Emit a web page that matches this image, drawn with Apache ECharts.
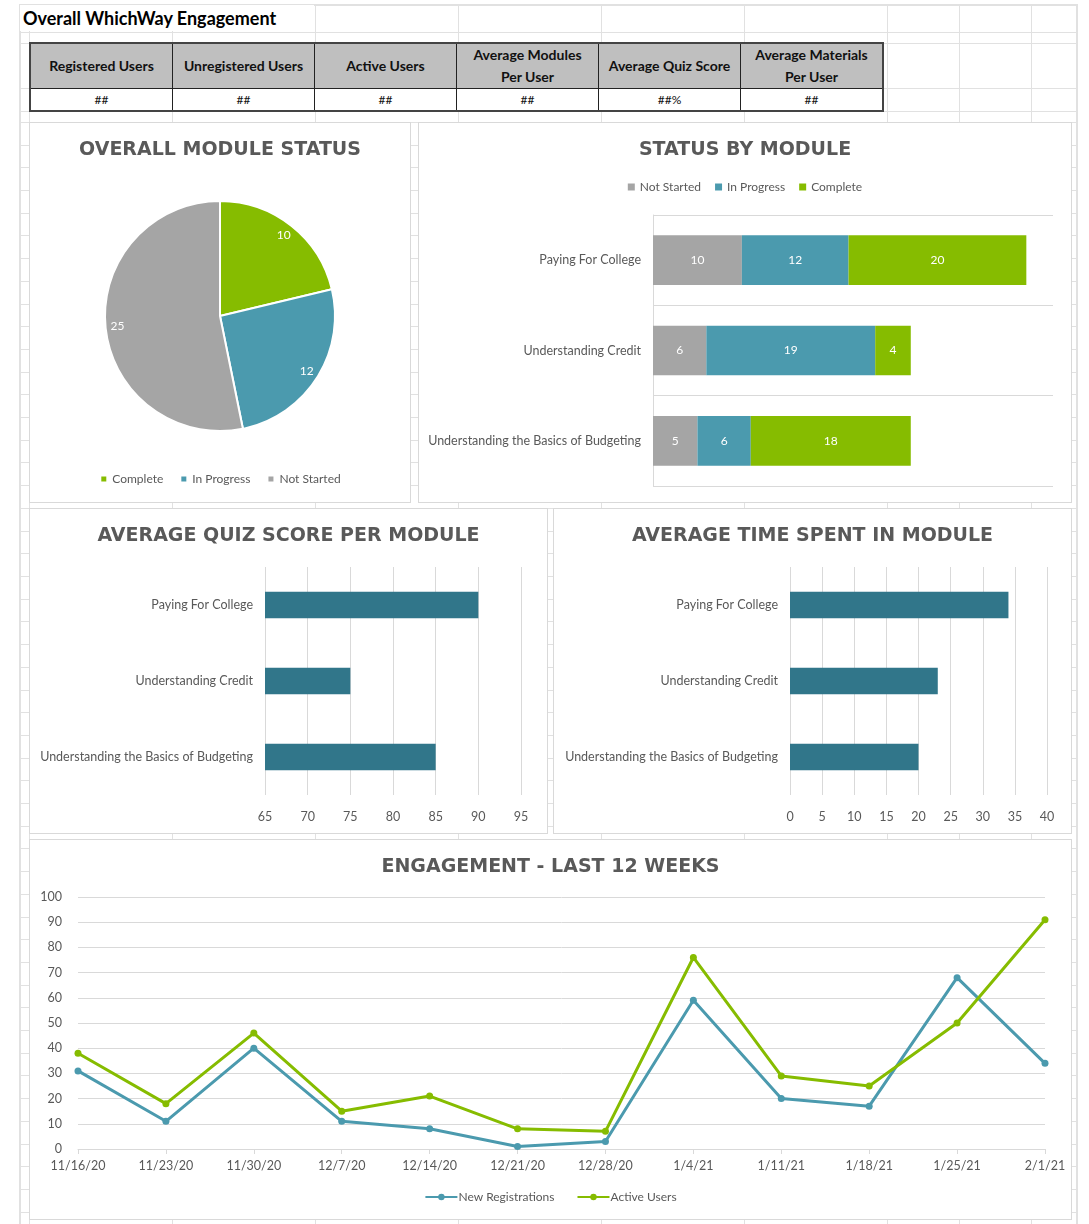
<!DOCTYPE html>
<html>
<head>
<meta charset="utf-8">
<script src="https://cdn.jsdelivr.net/npm/echarts@6/dist/echarts.min.js"></script>
<style>
  body { margin: 0; background: #fff; width: 1089px; height: 1224px; position: relative; overflow: hidden; font-family: Lato, sans-serif; }
  .gl { position: absolute; background: #e1e1e1; }
  .box { position: absolute; background: #fff; border: 1px solid #d9d9d9; box-sizing: border-box; }
  #sheetTitle { position: absolute; left: 20px; top: 5px; width: 294px; height: 26px; background: #fff;
    font-weight: bold; font-size: 18px; line-height: 27px; padding-left: 3px; color: #000; box-sizing: border-box; }
  #kpi { position: absolute; left: 29px; top: 42px; border-collapse: collapse; border: 2px solid #444; }
  #kpi td { width: 141px; padding: 0; text-align: center; border: 1px solid #222; color: #111; }
  #kpi tr.head td { background: #bfbfbf; height: 44px; font-weight: bold; font-size: 14px; line-height: 22px; }
  #kpi tr.vals td { background: #fff; height: 21px; font-size: 12px; }
</style>
</head>
<body>
<div id="grid"></div>
<div id="sheetTitle">Overall WhichWay Engagement</div>
<table id="kpi">
  <tr class="head"></tr>
  <tr class="vals"></tr>
</table>
<div id="pie" class="box" style="left:29px;top:122px;width:382px;height:381px"></div>
<div id="status" class="box" style="left:418px;top:122px;width:654px;height:381px"></div>
<div id="quiz" class="box" style="left:29px;top:508px;width:519px;height:326px"></div>
<div id="time" class="box" style="left:553px;top:508px;width:519px;height:326px"></div>
<div id="engage" class="box" style="left:29px;top:839px;width:1043px;height:381px"></div>
<script>
// ---- data ----
var kpiHeaders = ['Registered Users', 'Unregistered Users', 'Active Users', 'Average Modules<br>Per User', 'Average Quiz Score', 'Average Materials<br>Per User'];
var kpiValues = ['##', '##', '##', '##', '##%', '##'];

var statusNames = ['Complete', 'In Progress', 'Not Started'];
var statusTotals = [10, 12, 25];

var modules = ['Paying For College', 'Understanding Credit', 'Understanding the Basics of Budgeting'];
var notStarted = [10, 6, 5];
var inProgress = [12, 19, 6];
var complete = [20, 4, 18];

var quizScores = [90, 75, 85];
var timeSpent = [34, 23, 20];

var weeks = ['11/16/20', '11/23/20', '11/30/20', '12/7/20', '12/14/20', '12/21/20', '12/28/20', '1/4/21', '1/11/21', '1/18/21', '1/25/21', '2/1/21'];
var newRegistrations = [31, 11, 40, 11, 8, 1, 3, 59, 20, 17, 68, 34];
var activeUsers = [38, 18, 46, 15, 21, 8, 7, 76, 29, 25, 50, 91];

// ---- colours / fonts ----
var GREEN = '#86bc00', TEAL = '#4b9aae', GRAY = '#a5a5a5', DARK = '#31768a';
var TXT = '#595959';
var BODY = 'Lato';
var titleStyle = { fontFamily: 'DejaVu Sans', fontWeight: 'bold', fontSize: 19, color: TXT };
var labelStyle = { fontFamily: BODY, fontSize: 12.5, color: TXT };

// spreadsheet gridlines behind everything
(function drawSheet() {
  var g = document.getElementById('grid');
  var cols = [19, 29, 172, 315, 458, 601, 744, 887, 959, 1031, 1076];
  var rows = [4, 32, 43, 88, 111];
  for (var y = 122; y < 1224; y += 22.7) rows.push(Math.round(y));
  cols.forEach(function (x, i) {
    var d = document.createElement('div');
    d.className = 'gl';
    var w = (i === 0 || i === cols.length - 1) ? 2 : 1;
    d.style.cssText = 'left:' + x + 'px;top:4px;width:' + w + 'px;height:1220px';
    g.appendChild(d);
  });
  rows.forEach(function (y, i) {
    var d = document.createElement('div');
    d.className = 'gl';
    d.style.cssText = 'left:19px;top:' + y + 'px;width:1059px;height:' + (i === 0 ? 2 : 1) + 'px';
    g.appendChild(d);
  });
})();

document.querySelector('#kpi tr.head').innerHTML = kpiHeaders.map(function (h) { return '<td>' + h + '</td>'; }).join('');
document.querySelector('#kpi tr.vals').innerHTML = kpiValues.map(function (v) { return '<td>' + v + '</td>'; }).join('');

// ---- overall module status (pie) ----
var pieChart = echarts.init(document.getElementById('pie'));
var pieData = statusNames.map(function (n, i) { return { name: n, value: statusTotals[i] }; });
pieChart.setOption({
  animation: false,
  color: [GREEN, TEAL, GRAY],
  title: { text: 'OVERALL MODULE STATUS', left: 'center', top: 13, textStyle: titleStyle },
  legend: {
    bottom: 12, left: 'center', icon: 'rect', itemWidth: 7, itemHeight: 7, itemGap: 16,
    textStyle: { fontFamily: BODY, fontSize: 12, color: TXT }, data: statusNames
  },
  series: [
    {
      type: 'pie', radius: 115, center: [190, 193], startAngle: 90,
      itemStyle: { borderColor: '#fff', borderWidth: 2 },
      label: { show: false }, labelLine: { show: false },
      emphasis: { disabled: true },
      data: pieData
    },
    {
      // transparent ring only used to place the value labels near the rim
      type: 'pie', radius: [85, 115], center: [190, 193], startAngle: 90, silent: true,
      itemStyle: { color: 'rgba(0,0,0,0)' },
      label: { show: true, position: 'inside', formatter: '{c}', color: '#fff', fontSize: 12, fontFamily: BODY },
      emphasis: { disabled: true },
      data: pieData
    }
  ]
});

// ---- status by module (stacked bar) ----
var statusChart = echarts.init(document.getElementById('status'));
var stackLabel = { show: true, position: 'inside', color: '#fff', fontSize: 12, fontFamily: BODY };
statusChart.setOption({
  animation: false,
  title: { text: 'STATUS BY MODULE', left: 'center', top: 13, textStyle: titleStyle },
  legend: {
    top: 53, left: 'center', icon: 'rect', itemWidth: 7, itemHeight: 7, itemGap: 14,
    textStyle: { fontFamily: BODY, fontSize: 12, color: TXT }, data: ['Not Started', 'In Progress', 'Complete']
  },
  grid: { left: 234, right: 18, top: 92, bottom: 16 },
  xAxis: { type: 'value', min: 0, max: 45, show: false },
  yAxis: {
    type: 'category', inverse: true, data: modules,
    axisLine: { lineStyle: { color: '#d9d9d9' } }, axisTick: { show: false },
    splitLine: { show: true, lineStyle: { color: '#d9d9d9' } },
    axisLabel: Object.assign({ margin: 12 }, labelStyle)
  },
  series: [
    { name: 'Not Started', type: 'bar', stack: 's', barWidth: '55%', color: GRAY, label: stackLabel, data: notStarted },
    { name: 'In Progress', type: 'bar', stack: 's', barWidth: '55%', color: TEAL, label: stackLabel, data: inProgress },
    { name: 'Complete', type: 'bar', stack: 's', barWidth: '55%', color: GREEN, label: stackLabel, data: complete }
  ]
});

// ---- two single-series bar charts ----
function moduleBars(id, title, values, min, max, left, right) {
  var c = echarts.init(document.getElementById(id));
  c.setOption({
    animation: false,
    title: { text: title, left: 'center', top: 13, textStyle: titleStyle },
    grid: { left: left, right: right, top: 58, bottom: 38 },
    xAxis: {
      type: 'value', min: min, max: max, interval: 5,
      axisLine: { show: false }, axisTick: { show: false },
      splitLine: { lineStyle: { color: '#d9d9d9' } },
      axisLabel: Object.assign({ margin: 15 }, labelStyle)
    },
    yAxis: {
      type: 'category', inverse: true, data: modules,
      axisLine: { show: false }, axisTick: { show: false },
      axisLabel: Object.assign({ margin: 12 }, labelStyle)
    },
    series: [{ type: 'bar', barWidth: '35%', color: DARK, data: values }]
  });
  return c;
}
var quizChart = moduleBars('quiz', 'AVERAGE QUIZ SCORE PER MODULE', quizScores, 65, 95, 235, 26);
var timeChart = moduleBars('time', 'AVERAGE TIME SPENT IN MODULE', timeSpent, 0, 40, 236, 24);

// ---- engagement line chart ----
var engageChart = echarts.init(document.getElementById('engage'));
engageChart.setOption({
  animation: false,
  title: { text: 'ENGAGEMENT - LAST 12 WEEKS', left: 'center', top: 13, textStyle: titleStyle },
  legend: {
    bottom: 11, left: 'center', itemWidth: 32, itemHeight: 8, itemGap: 22,
    textStyle: { fontFamily: BODY, fontSize: 12, color: TXT, padding: [0, 0, 0, -4] },
    data: ['New Registrations', 'Active Users']
  },
  grid: { left: 48, right: 26, top: 57, bottom: 70 },
  xAxis: {
    type: 'category', boundaryGap: false, data: weeks,
    axisLine: { lineStyle: { color: '#d9d9d9' } },
    axisTick: { show: true, lineStyle: { color: '#d9d9d9' } },
    axisLabel: Object.assign({ margin: 10, interval: 0 }, labelStyle)
  },
  yAxis: {
    type: 'value', min: 0, max: 100, interval: 10,
    axisLine: { show: false }, axisTick: { show: false },
    splitLine: { lineStyle: { color: '#d9d9d9' } },
    axisLabel: Object.assign({ margin: 16 }, labelStyle)
  },
  series: [
    { name: 'New Registrations', type: 'line', color: TEAL, symbol: 'circle', symbolSize: 7, lineStyle: { width: 3 }, data: newRegistrations },
    { name: 'Active Users', type: 'line', color: GREEN, symbol: 'circle', symbolSize: 7, lineStyle: { width: 3 }, data: activeUsers }
  ]
});
</script>
</body>
</html>
